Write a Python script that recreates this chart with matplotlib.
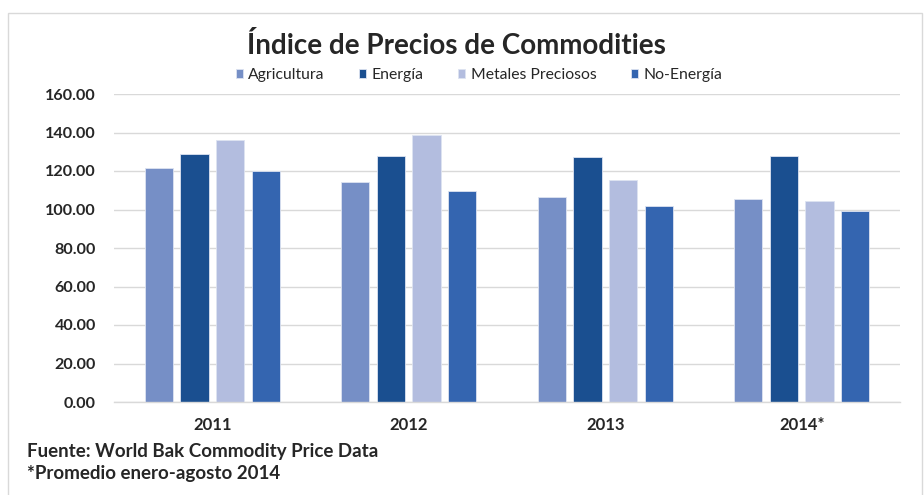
import matplotlib
matplotlib.use("Agg")
import matplotlib.pyplot as plt
import numpy as np
from matplotlib.patches import Rectangle

years = ["2011", "2012", "2013", "2014*"]
series_names = ["Agricultura", "Energía", "Metales Preciosos", "No-Energía"]
agricultura = [121.4, 114.5, 106.3, 105.3]
energia = [128.7, 127.6, 127.4, 127.8]
metales = [136.3, 138.5, 115.1, 104.3]
no_energia = [119.8, 109.6, 101.6, 99.1]
yticks = [0, 20, 40, 60, 80, 100, 120, 140, 160]
title = "Índice de Precios de Commodities"
notes = ["Fuente: World Bak Commodity Price Data", "*Promedio enero-agosto 2014"]

colors = ["#768FC6", "#1A4F90", "#B3BDDF", "#3465B0"]
values = [agricultura, energia, metales, no_energia]

plt.rcParams['font.family'] = ['Lato', 'DejaVu Sans']

W, H = 924, 495
fig = plt.figure(figsize=(W/100, H/100), dpi=100)

# outer frame
fig.patches.append(Rectangle((8/W, -0.05), (914)/W, 1 - 13/H + 0.05,
                             transform=fig.transFigure, fill=False,
                             edgecolor="#D9D9D9", linewidth=1.0))

ax = fig.add_axes([114/W, 1-402/H, (900-114)/W, (402-94)/H])
x = np.arange(len(years))
step = 0.181
bw = 0.143
handles = []
for i, (vals, c) in enumerate(zip(values, colors)):
    off = (i - 1.5) * step
    b = ax.bar(x + off, vals, width=bw, color=c, edgecolor="#DDE3F1",
               linewidth=0.6, zorder=3, label=series_names[i])
    handles.append(b)

ax.set_xlim(-0.5, len(years) - 0.5)
ax.set_ylim(0, 160)
ax.set_yticks(yticks)
ax.set_yticklabels([f"{v:.2f}" for v in yticks], fontsize=11.6, fontweight="bold",
                   color="#262626")
ax.set_xticks(x)
ax.set_xticklabels(years, fontsize=12, fontweight="bold", color="#262626")
ax.tick_params(axis="both", length=0)
ax.tick_params(axis="y", pad=13)
ax.tick_params(axis="x", pad=11)
ax.grid(axis="y", color="#D9D9D9", linewidth=1.0, zorder=0)
for s in ["top", "right", "left"]:
    ax.spines[s].set_visible(False)
ax.spines["bottom"].set_color("#D9D9D9")
ax.spines["bottom"].set_linewidth(1.0)
ax.spines["bottom"].set_zorder(4)

fig.text(456/W, 1-46/H, title, ha="center", va="center", fontsize=20,
         fontweight="bold", color="#262626")

fig.legend(handles=handles, labels=series_names, loc="center",
           bbox_to_anchor=(479/W, 1-75/H), ncol=4, frameon=False,
           fontsize=11.3, handlelength=0.45, handleheight=0.45,
           handletextpad=0.35, columnspacing=2.2, labelcolor="#262626")

fig.text(27/W, 1-452/H, notes[0], ha="left", va="center", fontsize=13.5,
         fontweight="bold", color="#262626")
fig.text(27/W, 1-473/H, notes[1], ha="left", va="center", fontsize=13.5,
         fontweight="bold", color="#262626")

fig.savefig("out.png", dpi=100)
